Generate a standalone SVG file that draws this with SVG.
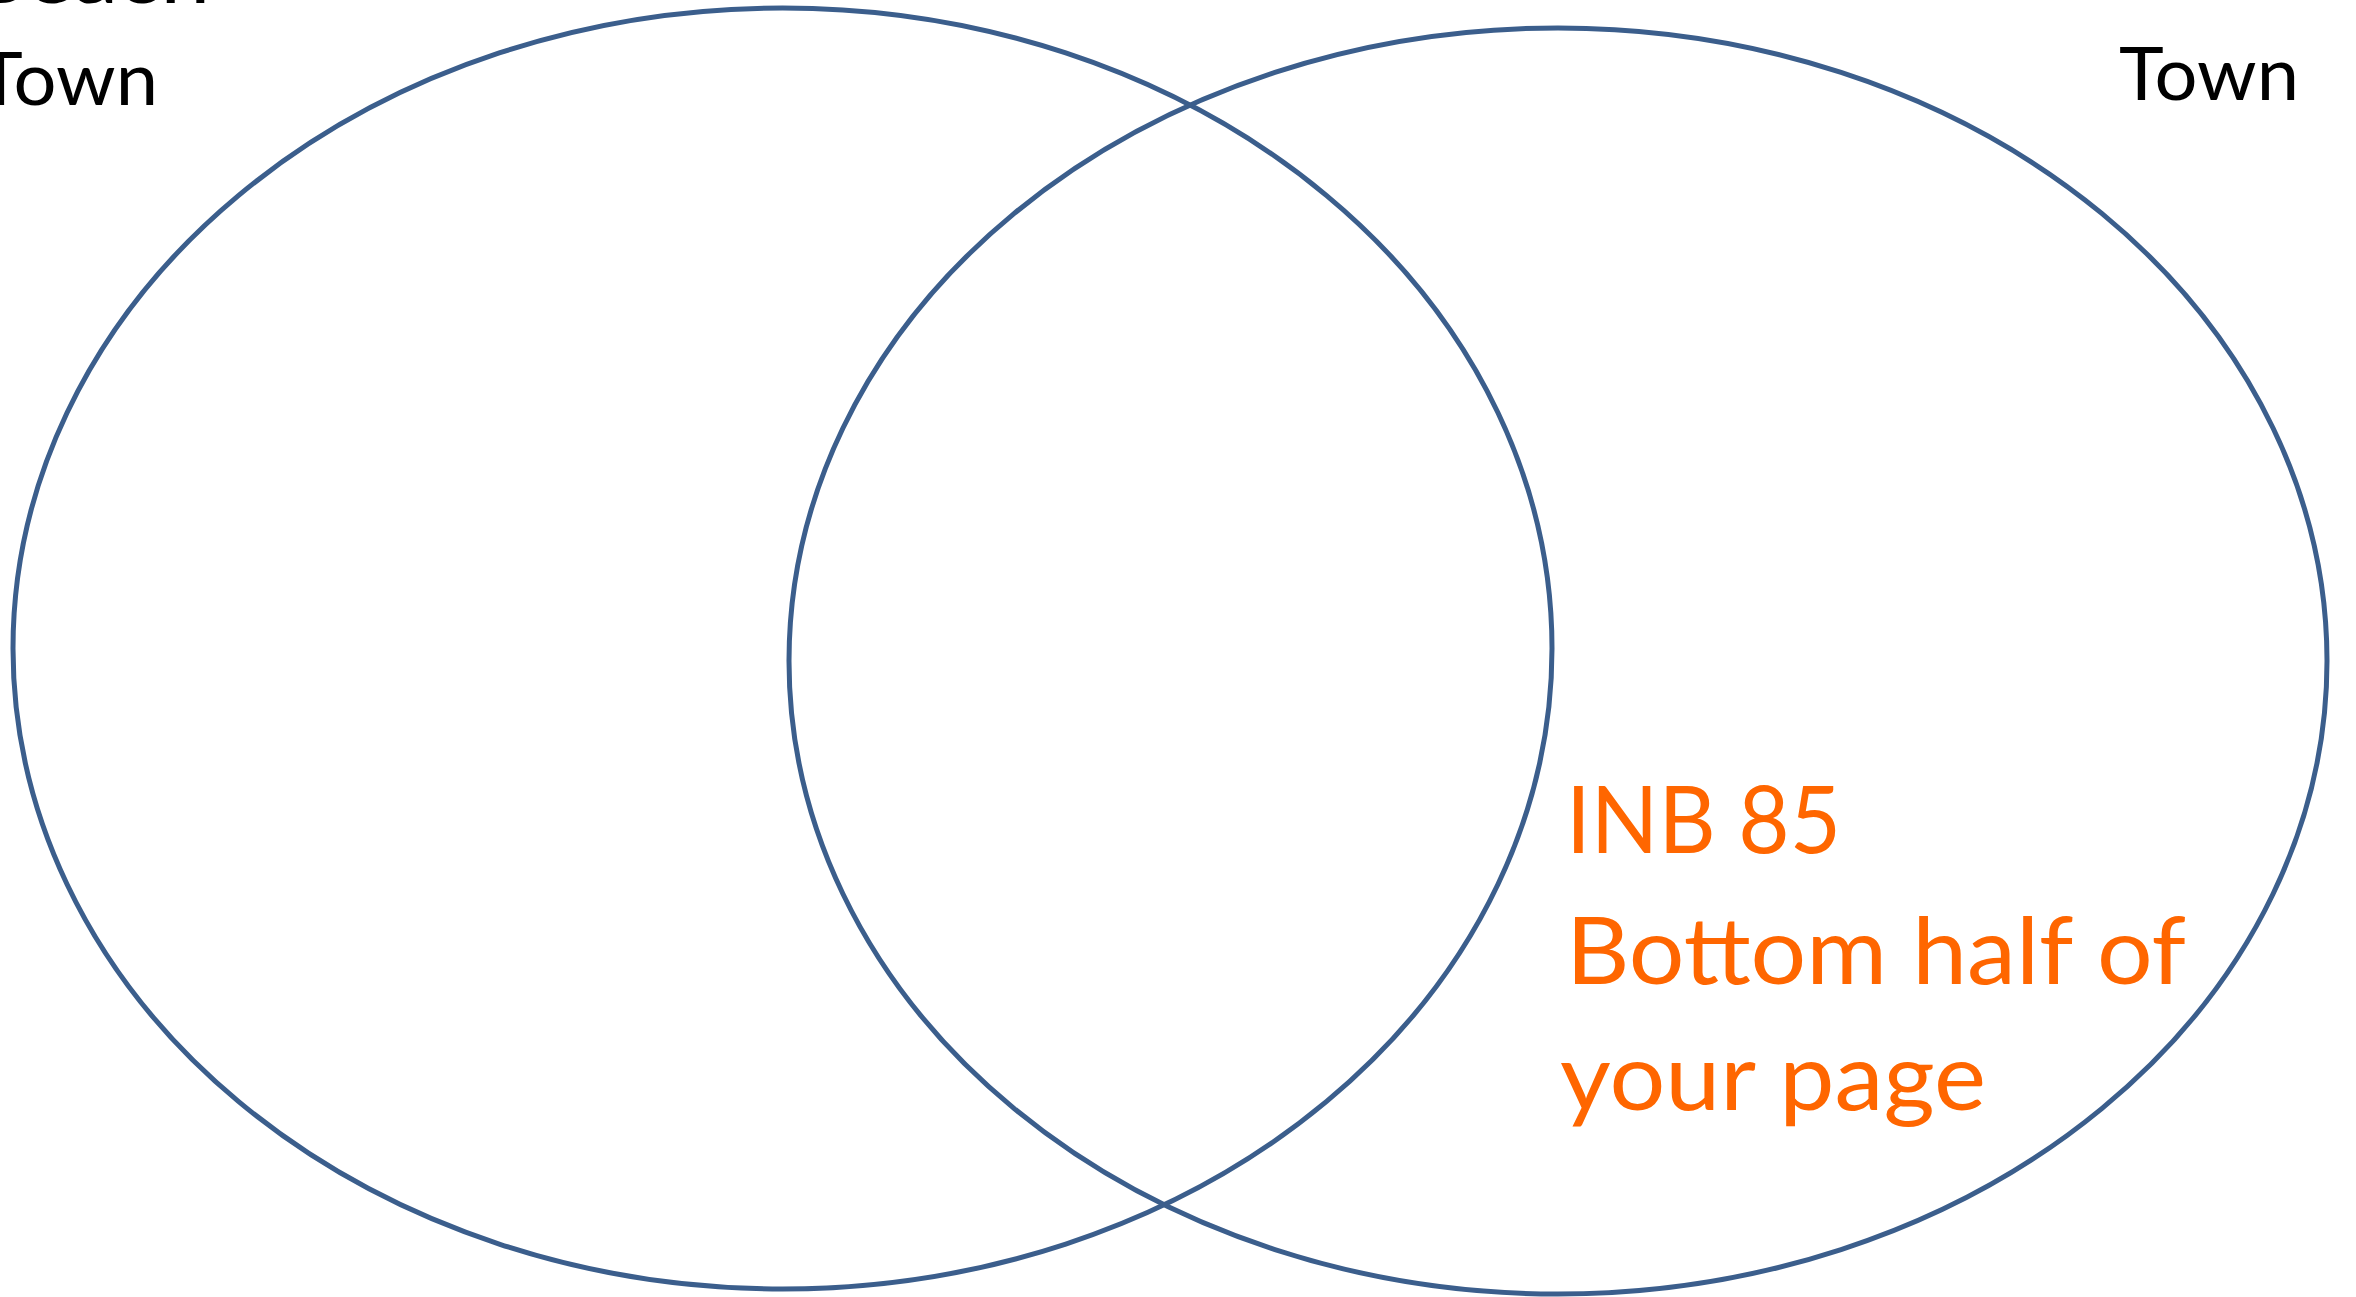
<svg xmlns="http://www.w3.org/2000/svg" width="2356" height="1297" viewBox="0 0 2356 1297">
<style>
.venn{fill:none;stroke:#3B5E8C;stroke-width:5}
.lbl{font-family:Lato,"Open Sans","Liberation Sans",sans-serif;fill:#000;font-size:74px}
.note{font-family:Lato,"Open Sans","Liberation Sans",sans-serif;fill:#FF6600;font-size:93px}
</style>
<rect width="2356" height="1297" fill="#fff"/>
<g id="left-circle">
<ellipse class="venn" cx="782.5" cy="648.5" rx="769.5" ry="640.5"/>
</g>
<g id="right-circle">
<ellipse class="venn" cx="1558" cy="661" rx="769" ry="633"/>
</g>
<g id="left-label">
<text class="lbl" x="-30" y="3" textLength="240" lengthAdjust="spacingAndGlyphs">Beach</text>
<text class="lbl" x="-22" y="105" textLength="180" lengthAdjust="spacingAndGlyphs">Town</text>
</g>
<g id="right-label">
<text class="lbl" x="2119" y="100" textLength="180" lengthAdjust="spacingAndGlyphs">Town</text>
</g>
<g id="note">
<text class="note" x="1566" y="853" textLength="275" lengthAdjust="spacingAndGlyphs">INB 85</text>
<text class="note" x="1566" y="984" textLength="620" lengthAdjust="spacingAndGlyphs">Bottom half of</text>
<text class="note" x="1560" y="1110" textLength="426" lengthAdjust="spacingAndGlyphs">your page</text>
</g>
<g id="connectors"/>
</svg>
